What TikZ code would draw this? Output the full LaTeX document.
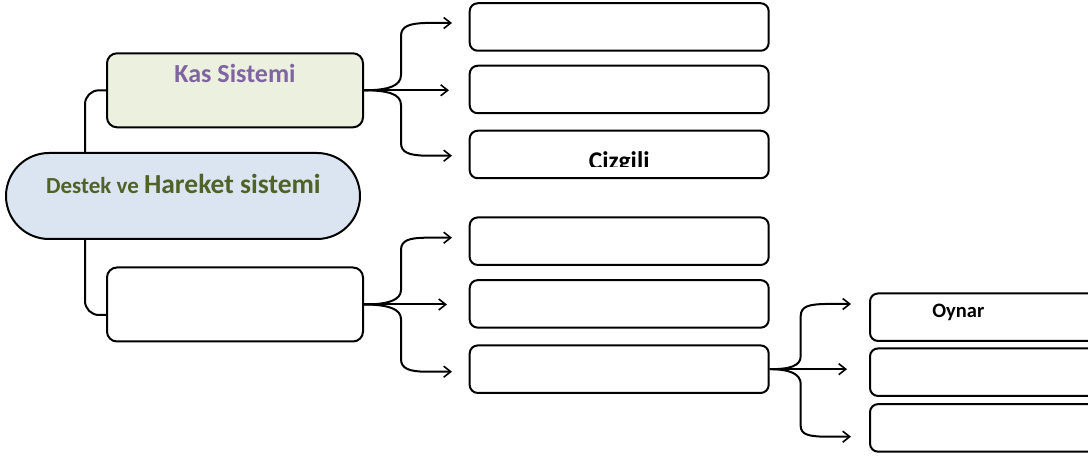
\documentclass[tikz,border=0pt]{standalone}
\usepackage{fontspec}
\setmainfont{Carlito}
\usetikzlibrary{arrows.meta}
\definecolor{mainfill}{RGB}{219,229,241}
\definecolor{maintext}{RGB}{79,98,40}
\definecolor{kasfill}{RGB}{235,241,222}
\definecolor{kastext}{RGB}{128,100,162}
\tikzset{
  box/.style={draw=black, line width=2pt, rounded corners=8pt, inner sep=0pt},
  bigbox/.style={draw=black, line width=2pt, rounded corners=10pt, inner sep=0pt, minimum width=256pt, minimum height=74pt},
  rbox/.style={box, minimum width=299pt, minimum height=47.5pt},
  frbox/.style={box, minimum width=232pt, minimum height=47.5pt},
  arr/.style={line width=2pt, -{Straight Barb[length=7pt,width=11pt,line width=1.6pt]}},
  conn/.style={line width=2pt},
  lbl/.style={font=\bfseries, anchor=base, inner sep=0pt}
}
\begin{document}
\begin{tikzpicture}[x=1pt,y=-1pt]
\useasboundingbox (0,0) rectangle (1088,457);
\clip (0,0) rectangle (1088,457);
% connector from main to the two boxes (behind main)
\coordinate (kasIn) at (107,90.3);
\coordinate (lowIn) at (107,315);
\draw[conn, rounded corners=14pt] (kasIn) -- (85,90.3) -- (85,315) -- (lowIn);
% main node
\node[box, rounded corners=43pt, fill=mainfill, minimum width=354pt, minimum height=86pt] (main) at (183,196) {};
\node[lbl, text=maintext] (maintxt) at (183.4,193.3) {\fontsize{23}{26}\selectfont Destek ve \fontsize{27.5}{30}\selectfont Hareket sistemi};
% left boxes
\node[bigbox, fill=kasfill] (kas) at (235,90.3) {};
\node[lbl, text=kastext] (kastxt) at (235,82.7) {\fontsize{26}{30}\selectfont Kas Sistemi};
\node[bigbox, fill=white] (low) at (235,304.5) {};
% right column boxes
\node[rbox] (r1) at (619.2,27) {};
\node[rbox] (r2) at (619.2,89.5) {};
\node[rbox] (r3) at (619.2,154.5) {};
\node[rbox] (r4) at (619.2,241.2) {};
\node[rbox] (r5) at (619.2,303.9) {};
\node[rbox] (r6) at (619.2,369.2) {};
\begin{scope}
\clip (470,130) rectangle (769,166.7);
\node[lbl] (ciz) at (619.2,169.4) {\fontsize{25.5}{30}\selectfont Cizgili};
\end{scope}
% far right boxes
\node[frbox] (f1) at (986,317.2) {};
\node[frbox] (f2) at (986,372.2) {};
\node[frbox] (f3) at (986,427.9) {};
\node[lbl] (oy) at (958.3,317.3) {\fontsize{20.5}{24}\selectfont Oynar};
% kas group
\coordinate (k1) at (452,23);
\coordinate (k2) at (449,90.3);
\coordinate (k3) at (452,155.7);
\draw[arr] (kas.east) .. controls (388,90.3) and (401,86) .. (401,75) -- (401,36) .. controls (401,26) and (410,23.5) .. (425,23) -- (k1);
\draw[arr] (kas.east) -- (k2);
\draw[arr] (kas.east) .. controls (388,90.3) and (401,94) .. (401,105) -- (401,143) .. controls (401,153) and (410,155.2) .. (425,155.7) -- (k3);
% low group
\coordinate (l1) at (452,237.7);
\coordinate (l2) at (447,304.5);
\coordinate (l3) at (452,371.7);
\draw[arr] (low.east) .. controls (388,304.5) and (401,300) .. (401,290) -- (401,250) .. controls (401,240) and (410,238) .. (425,237.7) -- (l1);
\draw[arr] (low.east) -- (l2);
\draw[arr] (low.east) .. controls (388,304.5) and (401,309) .. (401,319) -- (401,359) .. controls (401,369) and (410,371.4) .. (425,371.7) -- (l3);
% r6 group
\coordinate (g1) at (851,304);
\coordinate (g2) at (847,369.2);
\coordinate (g3) at (851,436.7);
\draw[arr] (r6.east) .. controls (790,369.2) and (800.7,366) .. (800.7,356) -- (800.7,316) .. controls (800.7,306) and (810,304.3) .. (825,304) -- (g1);
\draw[arr] (r6.east) -- (g2);
\draw[arr] (r6.east) .. controls (790,369.2) and (800.7,374) .. (800.7,384) -- (800.7,426) .. controls (800.7,435) and (810,436.4) .. (825,436.7) -- (g3);
\end{tikzpicture}
\end{document}
